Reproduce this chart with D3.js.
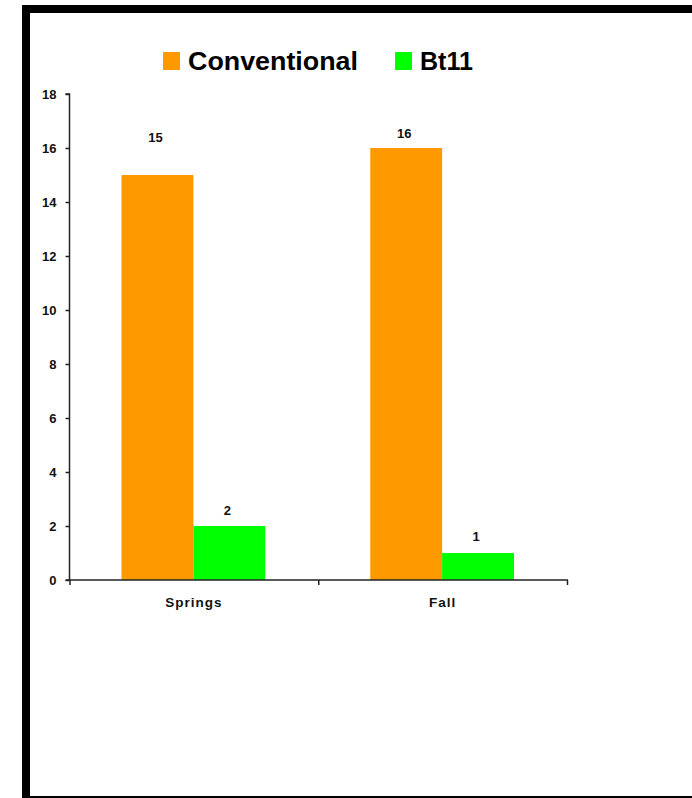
<!DOCTYPE html>
<html>
<head>
<meta charset="utf-8">
<script src="https://cdn.jsdelivr.net/npm/d3@7"></script>
<style>
  html, body { margin: 0; padding: 0; background: #fff; }
  svg { display: block; font-family: "Liberation Sans", Arial, sans-serif; }
</style>
</head>
<body>
<svg id="chart" width="692" height="798"></svg>
<script>
// Seasons on the x axis and the two corn types compared
const categories = ["Springs", "Fall"];
const seriesNames = ["Conventional", "Bt11"];
const conventional = [15, 16];
const bt11 = [2, 1];
const yTicks = [0, 2, 4, 6, 8, 10, 12, 14, 16, 18];

const colors = { Conventional: "#FF9900", Bt11: "#00FF00" };
// vertical gap between each bar top and its value label baseline
const labelLift = { Conventional: [33, 10], Bt11: [11, 12] };

const svg = d3.select("#chart");

// frame
svg.append("rect").attr("x", 22).attr("y", 5).attr("width", 670).attr("height", 8).attr("fill", "#000");
svg.append("rect").attr("x", 22).attr("y", 5).attr("width", 8).attr("height", 793).attr("fill", "#000");
svg.append("rect").attr("x", 30).attr("y", 796).attr("width", 662).attr("height", 2).attr("fill", "#000");

const plot = { left: 69.5, right: 567, top: 94, bottom: 580 };

const x0 = d3.scaleBand().domain(categories).range([plot.left, plot.right]).paddingInner(0).paddingOuter(0);
const x1 = d3.scaleBand().domain(seriesNames).range([52, x0.bandwidth() - 53]).padding(0);
const y = d3.scaleLinear().domain([0, 18]).range([plot.bottom, plot.top]);

const rows = categories.map((c, i) => ({
  category: c,
  values: [
    { series: "Conventional", value: conventional[i], idx: i },
    { series: "Bt11", value: bt11[i], idx: i }
  ]
}));

const groups = svg.append("g").selectAll("g").data(rows).join("g")
  .attr("transform", d => `translate(${x0(d.category)},0)`);

groups.selectAll("rect").data(d => d.values).join("rect")
  .attr("x", d => x1(d.series))
  .attr("y", d => y(d.value))
  .attr("width", x1.bandwidth())
  .attr("height", d => y(0) - y(d.value))
  .attr("fill", d => colors[d.series]);

groups.selectAll("text.val").data(d => d.values).join("text")
  .attr("class", "val")
  .attr("x", d => x1(d.series) + x1.bandwidth() / 2 - 2)
  .attr("y", d => y(d.value) - labelLift[d.series][d.idx])
  .attr("text-anchor", "middle")
  .attr("font-size", 13)
  .attr("font-weight", "bold")
  .attr("fill", "#111")
  .text(d => d.value);

// y axis
const yAxis = svg.append("g").attr("transform", `translate(${plot.left},0)`)
  .call(d3.axisLeft(y).tickValues(yTicks).tickSize(4).tickPadding(9).tickFormat(d3.format("d")));
yAxis.select(".domain").attr("stroke", "#222").attr("stroke-width", 1.5).attr("d", `M-4,${plot.top}H0V${plot.bottom}`);
yAxis.selectAll(".tick line").attr("stroke", "#222").attr("stroke-width", 1.5);
yAxis.selectAll(".tick text").attr("font-size", 13).attr("font-weight", "bold").attr("fill", "#111")
  .attr("font-family", "Liberation Sans, Arial, sans-serif");

// x axis with ticks on the category boundaries
const xAxisG = svg.append("g").attr("transform", `translate(0,${plot.bottom})`);
xAxisG.append("line").attr("x1", plot.left - 4).attr("x2", plot.right + 1)
  .attr("stroke", "#222").attr("stroke-width", 1.5);
const bounds = categories.map(c => x0(c)).concat([x0(categories[categories.length - 1]) + x0.bandwidth()]);
xAxisG.selectAll("line.tk").data(bounds).join("line").attr("class", "tk")
  .attr("x1", d => d + 0.5).attr("x2", d => d + 0.5).attr("y1", 0).attr("y2", 5)
  .attr("stroke", "#222").attr("stroke-width", 1.5);
xAxisG.selectAll("text").data(categories).join("text")
  .attr("x", d => x0(d) + x0.bandwidth() / 2)
  .attr("y", 27)
  .attr("text-anchor", "middle")
  .attr("font-size", 13.5)
  .attr("font-weight", "bold")
  .attr("letter-spacing", 1)
  .attr("fill", "#111")
  .text(d => d);

// legend
const legend = [
  { name: "Conventional", sx: 163, tx: 188, len: 170 },
  { name: "Bt11", sx: 395, tx: 420, len: 53 }
];
const lg = svg.append("g");
lg.selectAll("rect").data(legend).join("rect")
  .attr("x", d => d.sx).attr("y", 52).attr("width", 17).attr("height", 18)
  .attr("fill", d => colors[d.name]);
lg.selectAll("text").data(legend).join("text")
  .attr("x", d => d.tx).attr("y", 70)
  .attr("font-size", 26).attr("font-weight", "bold").attr("fill", "#000")
  .attr("textLength", d => d.len).attr("lengthAdjust", "spacingAndGlyphs")
  .text(d => d.name);
</script>
</body>
</html>
